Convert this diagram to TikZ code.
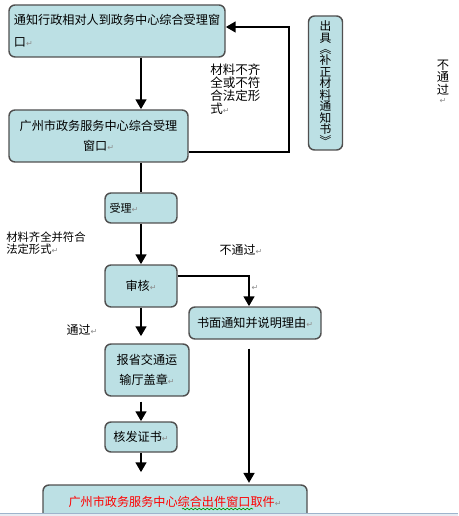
\documentclass[tikz,border=0pt]{standalone}
\usepackage{fontspec}
\setmainfont{Noto Sans CJK SC}
\newfontfamily\symfont{DejaVu Sans}
\usetikzlibrary{arrows.meta,decorations.pathmorphing}
\definecolor{boxfill}{RGB}{188,224,228}
\definecolor{boxline}{RGB}{80,80,80}
\definecolor{markgray}{RGB}{140,140,140}
\definecolor{pagebar}{RGB}{158,180,204}
\newcommand{\retmark}{{\symfont\fontsize{6}{6}\selectfont\color{markgray}↵}}
\begin{document}
\begin{tikzpicture}[x=0.75pt,y=0.75pt,yscale=-1,xscale=1,
  box/.style={draw=boxline,line width=1.1pt,fill=boxfill,rounded corners=4.5pt,inner sep=2pt},
  flow/.style={line width=2.2pt,-{Triangle[width=8pt,length=7.5pt]}},
  plain/.style={line width=2.2pt},
  note/.style={inner sep=0pt,font=\fontsize{9.4}{9.75}\selectfont,align=left}]
        \useasboundingbox (0,0) rectangle (458,516);
        \clip (0,0) rectangle (458,516);

        % Boxes
        \node [box,minimum width=162pt,minimum height=39pt,align=left,font=\fontsize{9.1}{16.5}\selectfont] (tongzhi) at (117,31) {通知行政相对人到政务中心综合受理窗\\口\retmark};
        \node [box,minimum width=134.25pt,minimum height=39pt,align=center,font=\fontsize{9.1}{15}\selectfont] (chuangkou) at (98.5,136) {广州市政务服务中心综合受理\\窗口\retmark};
        \node [box,minimum width=25.5pt,minimum height=100.5pt,align=center,font=\fontsize{8.8}{8.6}\selectfont] (buzheng) at (325.5,83) {出\\具\\︽\\补\\正\\材\\料\\通\\知\\书\\︾};
        \node [box,minimum width=54pt,minimum height=22.5pt] (shouli) at (141,208) {};
        \node [anchor=west,inner sep=0pt,font=\fontsize{8.25}{9}\selectfont] (shoulitext) at ([xshift=3.75pt]shouli.west) {受理\retmark};
        \node [box,minimum width=54pt,minimum height=31.5pt,font=\fontsize{9.1}{10}\selectfont] (shenhe) at (141,286) {审核\retmark};
        \node [box,minimum width=99pt,minimum height=24pt,font=\fontsize{9.1}{10}\selectfont] (shumian) at (255,323) {书面通知并说明理由\retmark};
        \node [box,minimum width=63pt,minimum height=39pt,align=center,font=\fontsize{9.1}{15}\selectfont] (baosheng) at (147,370) {报省交通运\\输厅盖章\retmark};
        \node [box,minimum width=54pt,minimum height=22.5pt,font=\fontsize{9.1}{10}\selectfont] (hefa) at (141,437) {核发证书\retmark};
        \node [box,minimum width=198pt,minimum height=34.5pt] (qujian) at (175,508) {};
        \node [inner sep=0pt,text=red,font=\fontsize{9.1}{10}\selectfont] (qujiantext) at (175,502) {广州市政务服务中心综合出件窗口取件\retmark};
        \draw [green!60!black,line width=0.5pt,decorate,decoration={snake,amplitude=0.6pt,segment length=3pt}] (182,509) -- (253,509);

        % Connectors
        \coordinate (bend) at (289,27);
        \coordinate (fork) at (249,276);
        \draw [flow] (tongzhi.south -| shouli.north) -- (chuangkou.north -| shouli.north);
        \draw [flow] (chuangkou.east |- 0,152) -| (bend) -- (tongzhi.east |- bend);
        \draw [plain] (chuangkou.south -| shouli.north) -- (shouli.north);
        \draw [flow] (shouli) -- (shenhe);
        \draw [flow] (shenhe.east |- fork) -| (fork |- shumian.north);
        \draw [flow,shorten >=5.25pt] (shenhe.south) -- (shenhe.south |- baosheng.north);
        \draw [flow,shorten <=3.75pt] (baosheng.south -| hefa.north) -- (hefa.north);
        \draw [flow,shorten >=9pt] (hefa.south) -- (hefa.south |- qujian.north);
        \draw [flow,shorten <=6.75pt,shorten >=1pt] (fork |- shumian.south) -- (fork |- qujian.north);

        % Text Nodes
        \node [note,anchor=north west] (buqi) at (210,64) {材料不齐\\全或不符\\合法定形\\式\retmark};
        \node [note,align=center,font=\fontsize{9.2}{9.2}\selectfont] (butongguo) at (443,82) {不\\通\\过\\[-2pt]\retmark};
        \node [note,anchor=north west,font=\fontsize{8.5}{9}\selectfont] (qiquan) at (6,232) {材料齐全并符合\\法定形式\retmark};
        \node [note,font=\fontsize{9}{10}\selectfont] (butongguo2) at (241,250) {不通过\retmark};
        \node [note,font=\fontsize{9}{10}\selectfont] (tongguo) at (82,330) {通过\retmark};
        \node [note] (emptymark) at (255,288) {\retmark};

        % Page edge
        \fill [pagebar!25] (0,513) rectangle (458,516);
        \draw [pagebar,line width=0.75pt] (0,513) -- (458,513);
\end{tikzpicture}
\end{document}
